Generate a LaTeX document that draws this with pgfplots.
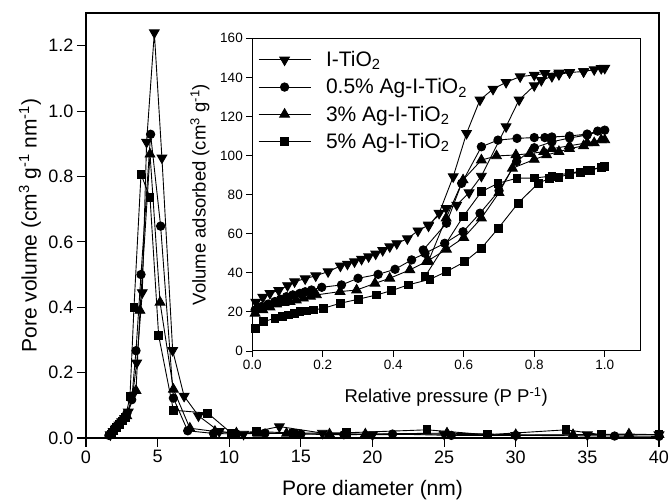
\documentclass[border=0pt]{standalone}
\usepackage{fontspec}
\setmainfont{Liberation Sans}
\usepackage{pgfplots}
\pgfplotsset{compat=1.18}

% ---------- Pore size distribution ----------
\pgfplotstableread{
x y
1.7 0.01
1.9 0.02
2.1 0.03
2.3 0.04
2.5 0.05
2.7 0.06
2.95 0.08
3.25 0.13
3.54 0.23
3.93 0.445
4.23 0.905
4.77 1.24
5.3 0.857
6.05 0.268
6.85 0.128
7.85 0.068
9.3 0.02
11.0 0.012
13.5 0.035
16.5 0.015
20.0 0.01
25.0 0.012
30.0 0.008
35.0 0.01
40.0 0.01
}\psdA
\pgfplotstableread{
x y
1.6 0.008
1.8 0.018
2.0 0.028
2.2 0.038
2.4 0.048
2.6 0.058
2.85 0.075
3.19 0.117
3.49 0.267
3.84 0.50
4.51 0.929
5.21 0.648
6.1 0.122
7.1 0.022
8.9 0.014
10.5 0.012
12.5 0.015
15.0 0.012
18.0 0.01
21.4 0.012
25.5 0.008
30.0 0.008
36.9 0.006
40.0 0.005
}\psdB
\pgfplotstableread{
x y
1.65 0.01
1.85 0.02
2.05 0.03
2.25 0.04
2.45 0.05
2.65 0.06
2.84 0.068
3.49 0.145
3.77 0.39
4.47 0.868
5.17 0.415
6.1 0.149
7.25 0.03
9.0 0.02
10.5 0.015
12.0 0.014
14.0 0.014
17.0 0.012
19.5 0.012
25.2 0.015
30.0 0.01
34.0 0.01
37.9 0.012
40.0 0.01
}\psdC
\pgfplotstableread{
x y
1.75 0.012
1.95 0.022
2.15 0.032
2.35 0.042
2.55 0.052
2.75 0.062
3.07 0.127
3.35 0.40
3.84 0.807
4.47 0.735
5.07 0.314
6.1 0.085
8.5 0.076
10.17 0.014
11.9 0.02
14.5 0.015
18.2 0.016
23.8 0.025
28.0 0.01
33.5 0.025
36.0 0.01
40.0 0.01
}\psdD

% ---------- Isotherms ----------
\pgfplotstableread{
x y
0.01 25
0.03 27.5
0.05 29.5
0.075 31
0.1 33.5
0.12 35.5
0.15 37
0.18 38.5
0.215 40.6
0.25 43.5
0.27 44.5
0.29 45.7
0.31 47
0.33 48.3
0.35 49.7
0.37 51.5
0.39 53.4
0.41 55
0.44 57.5
0.47 61.5
0.5 64.5
0.55 73
0.58 74.7
0.615 81
0.65 89.5
0.72 114.8
0.757 128.5
0.8 135.8
0.82 138.5
0.85 140.5
0.87 141.5
0.9 142.5
0.94 143
0.97 144
1.0 144.7
0.99 144.6
0.94 143
0.9 142.5
0.87 142.3
0.83 142
0.8 141.2
0.76 140.4
0.72 137.5
0.683 134
0.646 128.5
0.608 111.4
0.57 89.2
0.53 70.5
0.5 64
}\isoA
\pgfplotstableread{
x y
0.008 21
0.026 22.7
0.045 24
0.064 25.3
0.08 26.5
0.097 27.8
0.115 28.7
0.135 29.5
0.15 30.3
0.168 31.2
0.197 32.6
0.253 33.8
0.3 37.2
0.357 39.2
0.405 41.8
0.452 46.6
0.49 50
0.546 55.1
0.598 61
0.646 70.5
0.7 82
0.75 97
0.8 104
0.85 107
0.9 109
0.95 110.5
1.0 113
0.98 112.5
0.95 111
0.9 110
0.85 109.5
0.83 109.2
0.8 109.2
0.751 108.8
0.697 107.9
0.65 104.5
0.594 85.8
0.551 65.4
0.485 51.7
}\isoB
\pgfplotstableread{
x y
0.008 19.3
0.03 21
0.05 22.5
0.069 24
0.09 24.8
0.107 25.3
0.125 26
0.145 27
0.165 28
0.182 28.7
0.249 30.4
0.296 31.2
0.348 34.6
0.39 37.2
0.447 41.5
0.494 45.7
0.551 52
0.6 58
0.65 68
0.7 81
0.738 93.5
0.8 98
0.835 100.3
0.87 102
0.9 103.5
0.94 105
0.97 106.5
1.0 108
0.99 108
0.95 106.5
0.9 105
0.85 103.5
0.827 102
0.787 101
0.748 100.3
0.693 99.8
0.65 97.7
0.598 87.5
0.55 68
0.5 46
}\isoC
\pgfplotstableread{
x y
0.008 11.6
0.031 15
0.064 16.7
0.085 17.5
0.102 18.4
0.12 19.2
0.135 20.1
0.155 20.5
0.173 21
0.201 21.8
0.249 24.4
0.301 26.5
0.353 28.7
0.395 30.9
0.442 33.8
0.504 36.7
0.551 40.6
0.603 45.7
0.65 52.6
0.698 62.8
0.754 75.6
0.811 85.8
0.844 88.4
0.87 89
0.9 90.5
0.93 91.5
0.96 92.5
1.0 94.4
0.99 94
0.95 92.5
0.9 91
0.85 89.5
0.8 88.5
0.751 88.4
0.697 85.8
0.65 81.5
0.598 68.7
0.49 38.1
}\isoD

\pgfplotsset{
  ser/.style={black, line width=0.9pt},
  mdown/.style={ser, mark=triangle*, mark size=5.6pt, mark options={rotate=180, fill=black}},
  mcirc/.style={ser, mark=*, mark size=4.2pt, mark options={fill=black}},
  mup/.style={ser, mark=triangle*, mark size=5.6pt, mark options={fill=black}},
  msq/.style={ser, mark=square*, mark size=3.9pt, mark options={fill=black}},
}

\begin{document}
\begin{tikzpicture}
\begin{axis}[
  at={(0pt,0pt)}, anchor=south west,
  scale only axis, width=573pt, height=425pt,
  xmin=0, xmax=40, ymin=0, ymax=1.3,
  xtick={0,5,...,40},
  ytick={0,0.2,0.4,0.6,0.8,1.0,1.2},
  axis line style={line width=1.3pt},
  tick style={line width=1.1pt, black},
  tick align=outside, major tick length=9pt,
  tick pos=left,
  /pgf/number format/assume math mode=true,
  ticklabel style={font=\fontsize{18}{20}\selectfont},
  yticklabel style={/pgf/number format/fixed, /pgf/number format/fixed zerofill, /pgf/number format/precision=1},
  every axis x label/.style={at={(axis description cs:0.5,-0.1224)}, anchor=center},
  every axis y label/.style={at={(axis description cs:-0.0977,0.5)}, anchor=center, rotate=90},
  label style={font=\fontsize{21}{24}\selectfont},
  xlabel={Pore diameter (nm)},
  ylabel={Pore volume (cm\textsuperscript{3} g\textsuperscript{-1} nm\textsuperscript{-1})},
  clip=false,
]
\addplot[mdown] table {\psdA};
\addplot[mcirc] table {\psdB};
\addplot[mup] table {\psdC};
\addplot[msq] table {\psdD};
\end{axis}

\begin{axis}[
  at={(166.3pt,87pt)}, anchor=south west,
  scale only axis, width=387.7pt, height=312.7pt,
  xmin=0, xmax=1.1, ymin=0, ymax=160,
  xtick={0,0.2,0.4,0.6,0.8,1.0},
  ytick={0,20,...,160},
  axis background/.style={fill=white},
  axis line style={line width=1.0pt},
  tick style={line width=0.9pt, black},
  tick align=outside, major tick length=6pt,
  tick pos=left,
  /pgf/number format/assume math mode=true,
  ticklabel style={font=\fontsize{13.5}{15}\selectfont},
  xticklabel style={/pgf/number format/fixed, /pgf/number format/fixed zerofill, /pgf/number format/precision=1},
  every axis x label/.style={at={(axis description cs:0.5,-0.147)}, anchor=center},
  every axis y label/.style={at={(axis description cs:-0.135,0.5)}, anchor=center, rotate=90},
  label style={font=\fontsize{18.5}{21}\selectfont},
  xlabel={Relative pressure (P P\textsuperscript{-1})},
  ylabel={Volume adsorbed (cm\textsuperscript{3} g\textsuperscript{-1})},
  legend style={at={(axis description cs:0.012,0.968)}, anchor=north west, draw=none, fill=none,
    font=\fontsize{21}{22}\selectfont, row sep=6.5pt, inner sep=1pt,
    nodes={inner sep=2pt}},
  legend cell align=left,
  legend image code/.code={\draw[mark repeat=2, mark phase=2, #1] plot coordinates {(0pt,0pt) (26pt,0pt) (52pt,0pt)};},
  /tikz/every odd column/.append style={column sep=13pt},
]
\addplot[mdown] table {\isoA};
\addlegendentry{I-TiO\textsubscript{2}}
\addplot[mcirc] table {\isoB};
\addlegendentry{0.5\% Ag-I-TiO\textsubscript{2}}
\addplot[mup] table {\isoC};
\addlegendentry{3\% Ag-I-TiO\textsubscript{2}}
\addplot[msq] table {\isoD};
\addlegendentry{5\% Ag-I-TiO\textsubscript{2}}
\end{axis}
\pgfresetboundingbox
\useasboundingbox (-86pt,-64pt) rectangle (584pt,438pt);
\end{tikzpicture}
\end{document}
